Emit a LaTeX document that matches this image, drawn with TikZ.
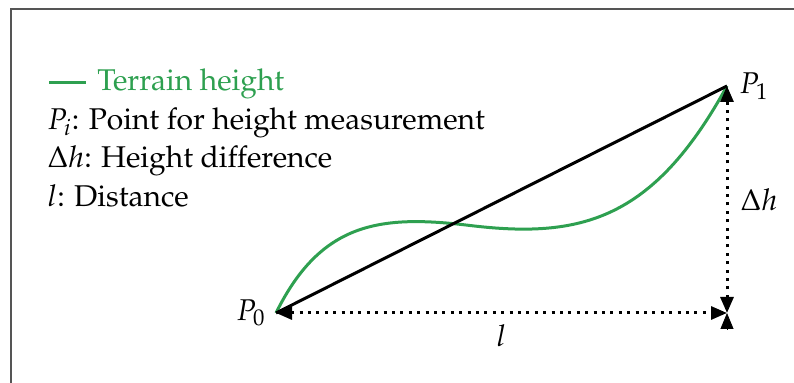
\documentclass[tikz,border=0pt]{standalone}
\usepackage[T1]{fontenc}
\usepackage{mathpazo}
\usetikzlibrary{arrows.meta,positioning}
\definecolor{terraingreen}{RGB}{46,160,80}
\definecolor{framegray}{RGB}{85,85,85}
\tikzset{
  terrain/.style={terraingreen, line width=1.5pt},
  slope/.style={black, line width=1.5pt},
  dimline/.style={line width=1.5pt, dash pattern=on 1.5pt off 2.7pt},
  dimtip/.style={Triangle[length=8pt,width=6.5pt]},
  lbl/.style={inner sep=0pt, font=\fontsize{15}{18}\selectfont},
}
\begin{document}
\begin{tikzpicture}[x=0.5pt,y=-0.5pt]
\useasboundingbox (0,0) rectangle (794,383);
% frame
\draw[framegray, line width=1pt] (10.5,383) -- (10.5,9.5) -- (794,9.5);
% points
\coordinate (P0) at (276,313);
\coordinate (P1) at (727,86);
\coordinate (C) at (727,313);
\coordinate (Cb) at (727,330);
\coordinate (bend) at (470,225.5);
% terrain and slope
\draw[terrain] (P0) .. controls (321,222) and (380,214.5) .. (bend)
  .. controls (580,238.7) and (653,221) .. (P1);
\draw[slope] (P0) -- (P1);
% dimensions
\draw[dimline, {Triangle[length=8pt,width=6.5pt]}-{Triangle[length=8pt,width=6.5pt]}] (P0) -- (C) node[midway, below=5pt, lbl] (l) {$l$};
\draw[dimline, {Triangle[length=8pt,width=6.5pt]}-{Triangle[length=8pt,width=6.5pt]}] (C) -- (P1) node[midway, right=6pt, lbl] (dh) {$\Delta h$};
\draw[-{Triangle[length=8pt,width=6.5pt]}] (Cb) -- (C);
\node[lbl, left=5pt of P0] (p0lbl) {$P_0$};
\node[lbl, right=6pt of P1] (p1lbl) {$P_1$};
% legend
\coordinate (legA) at (49,83);
\coordinate (legB) at (86,83);
\draw[terrain] (legA) -- (legB);
\node[lbl, anchor=base west, text=terraingreen] (leg1) at (97,91) {Terrain height};
\node[lbl, anchor=base west] (leg2) at (47,130) {$P_i$: Point for height measurement};
\node[lbl, anchor=base west] (leg3) at (47,168) {$\Delta h$: Height difference};
\node[lbl, anchor=base west] (leg4) at (47,207) {$l$: Distance};
\end{tikzpicture}
\end{document}
